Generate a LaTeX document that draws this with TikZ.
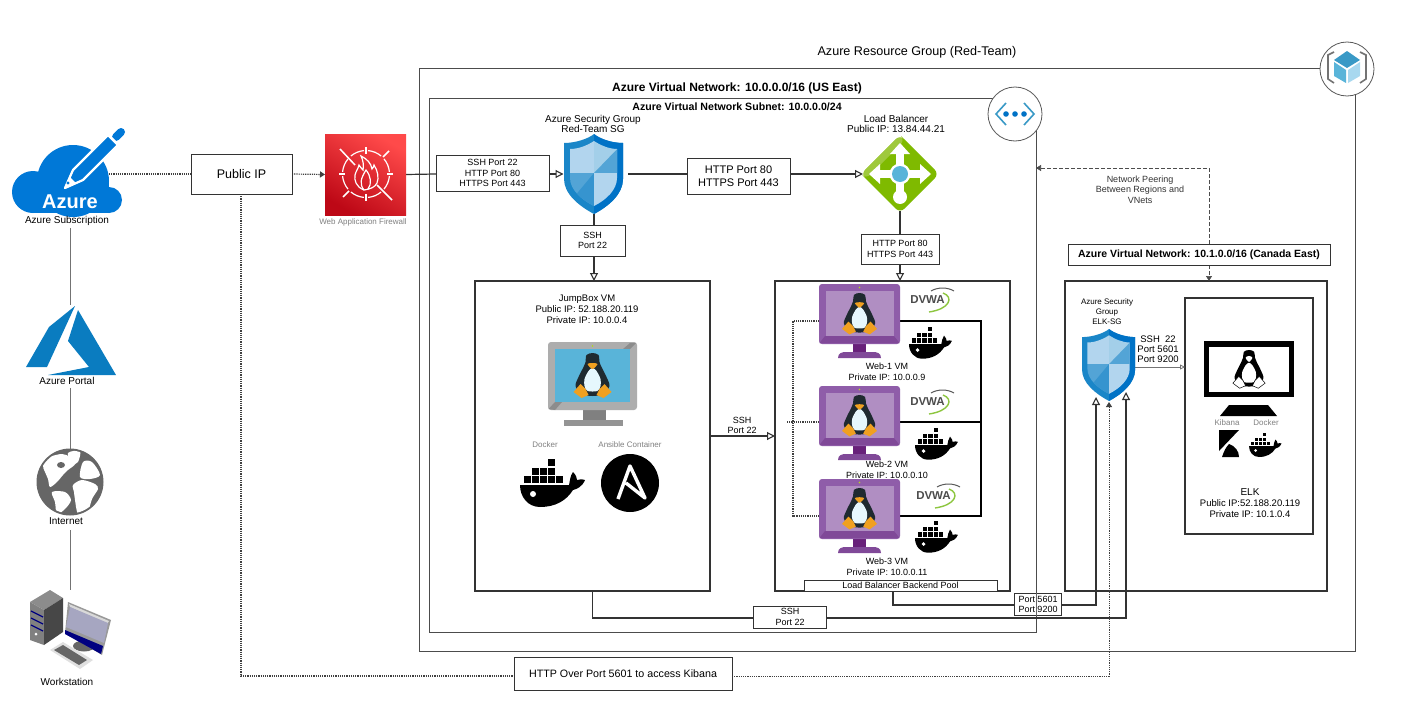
\documentclass[tikz,border=0pt]{standalone}
\usepackage{fontspec}
\setmainfont{Liberation Sans}
\usetikzlibrary{arrows.meta,shapes.geometric}
\definecolor{azblue}{HTML}{0078D7}
\definecolor{azport}{HTML}{0A7CC0}
\definecolor{shA}{HTML}{1A86C8}
\definecolor{shB}{HTML}{0072C6}
\definecolor{lnk}{HTML}{333333}
\definecolor{glab}{HTML}{808080}
\definecolor{vmA}{HTML}{8F5DA9}
\definecolor{vmB}{HTML}{B08EC2}
\definecolor{vmC}{HTML}{68217A}
\definecolor{vmD}{HTML}{804998}
\definecolor{tuxo}{HTML}{F0A020}
\definecolor{tuxd}{HTML}{1F2A30}
\definecolor{cubeA}{HTML}{3999C6}
\definecolor{cubeB}{HTML}{59B4D9}
\definecolor{cubeC}{HTML}{A8D8EF}
\definecolor{lbA}{HTML}{7FBA00}
\definecolor{lbB}{HTML}{9FC93C}
\definecolor{gearth}{HTML}{666666}
\definecolor{wafA}{HTML}{BD0816}
\definecolor{wafB}{HTML}{FF5252}
\definecolor{dvg}{HTML}{8DC63F}
\tikzset{
  x=1pt,y=-1pt,
  box/.style={draw=lnk,line width=1pt,fill=white,inner sep=0pt,outer sep=0pt,align=center,text=black},
  frame/.style={draw=black!80,line width=1.2pt,fill=white,inner sep=0pt,outer sep=0pt},
  area/.style={draw=black!70,line width=.9pt,inner sep=0pt,outer sep=0pt},
  hit/.style={inner sep=0pt,outer sep=0pt},
  lbl/.style={inner sep=0pt,outer sep=0pt,align=center,text=black},
  glbl/.style={lbl,text=glab},
  f8/.style={font=\fontsize{8}{10}\selectfont},
  f9/.style={font=\fontsize{9}{10.6}\selectfont},
  f95/.style={font=\fontsize{9.5}{10.8}\selectfont},
  f10/.style={font=\fontsize{10}{10.5}\selectfont},
  f11/.style={font=\fontsize{11}{12.6}\selectfont},
  f12/.style={font=\fontsize{12.5}{14}\selectfont},
  link/.style={draw=lnk,line width=1.2pt},
  thinlink/.style={draw=black!55,line width=.8pt},
  dotlink/.style={draw=black!75,line width=1.2pt,dash pattern=on 1.2pt off 1pt},
  peer/.style={draw=black!70,line width=.7pt,dash pattern=on 4pt off 2pt},
  opena/.style={-{Triangle[open,length=8pt,width=8pt,line width=1.1pt]}},
  fulla/.style={-{Triangle[length=5pt,width=6pt]}},
}
\newcommand\TuxAt[3]{\begin{scope}[shift={(#1,#2)},scale=#3]
 \fill[tuxd] plot[smooth cycle] coordinates {(0,0)(6,2)(7,9)(9,14)(14,24)(17,33)(11,41)(0,43)(-11,41)(-17,33)(-14,24)(-9,14)(-7,9)(-6,2)};
 \fill[white!90!cyan] plot[smooth cycle] coordinates {(0,15)(4,18)(8,26)(8,33)(5,38)(-5,38)(-8,33)(-8,26)(-4,18)};
 \fill[tuxo] plot[smooth cycle] coordinates {(-5,11)(0,10)(5,11)(0,16)};
 \fill[tuxo] (-19,39)--(-12,31)--(-7,36)--(-4,42)--(-11,45)--cycle;
 \fill[tuxo] (19,39)--(12,31)--(7,36)--(4,42)--(11,45)--cycle;
\end{scope}}
\newcommand\TuxOutlineAt[3]{\begin{scope}[shift={(#1,#2)},scale=#3]
 \fill[black] plot[smooth cycle] coordinates {(0,0)(6,2)(7,9)(9,14)(14,24)(17,33)(11,41)(0,43)(-11,41)(-17,33)(-14,24)(-9,14)(-7,9)(-6,2)};
 \fill[white] plot[smooth cycle] coordinates {(0,15)(4,18)(8,26)(8,33)(5,38)(-5,38)(-8,33)(-8,26)(-4,18)};
 \fill[white] plot[smooth cycle] coordinates {(-4,9)(0,7)(4,9)(0,14)};
 \draw[black,fill=white,line width=.5pt] (-19,39)--(-12,31)--(-7,36)--(-4,42)--(-11,45)--cycle;
 \draw[black,fill=white,line width=.5pt] (19,39)--(12,31)--(7,36)--(4,42)--(11,45)--cycle;
\end{scope}}
\newcommand\WhaleAt[3]{\begin{scope}[shift={(#1,#2)},scale=#3]
 \fill[black] (0,26)--(49,26) .. controls (50,22) and (50,17) .. (53,13) .. controls (56,16) and (57,19) .. (57,21) .. controls (60,20) and (63,20) .. (65,21) .. controls (62,28) and (57,30) .. (53,31) .. controls (46,42) and (35,48) .. (20,48) .. controls (8,48) and (0,38) .. (0,26) -- cycle;
 \fill[white] (13,35) circle (3);
 \foreach \xx in {4.3,12.3,20.3,28.3,36.3} {\fill[black] (\xx,17.3) rectangle +(6.6,6.6);}
 \foreach \xx in {12.3,20.3,28.3} {\fill[black] (\xx,9) rectangle +(6.6,6.6);}
 \fill[black] (28.3,0) rectangle +(6.6,6.6);
\end{scope}}
\newcommand\ShieldAt[3]{\begin{scope}[shift={(#1,#2)},scale=#3]
 \fill[shA] (30,0) .. controls (36,5) and (48,9) .. (59,9) -- (59,45) .. controls (59,60) and (45,72) .. (30,80) .. controls (15,72) and (0,60) .. (0,45) -- (0,9) .. controls (11,9) and (24,5) .. (30,0) -- cycle;
 \fill[shB] (30,0) .. controls (36,5) and (48,9) .. (59,9) -- (59,45) .. controls (59,60) and (45,72) .. (30,80) -- cycle;
 \begin{scope}
  \clip (30,7) .. controls (36,11) and (45,15) .. (53,15) -- (53,44) .. controls (53,56) and (42,66) .. (30,72) .. controls (18,66) and (6,56) .. (6,44) -- (6,15) .. controls (15,15) and (24,11) .. (30,7) -- cycle;
  \fill[white!70!shB] (0,0) rectangle (30,39);
  \fill[white!60!shA] (30,0) rectangle (60,39);
  \fill[white!25!shA] (30,39) -- (60,39) -- (60,8) -- cycle;
  \fill[white!25!shA] (0,39) rectangle (30,80);
  \fill[white!12!shA] (30,39) -- (0,75) -- (30,75) -- cycle;
  \fill[white!70!shB] (30,39) rectangle (60,80);
 \end{scope}
\end{scope}}
\newcommand\VmAt[2]{\begin{scope}[shift={(#1,#2)}]
 \fill[vmC] (34,58) rectangle (47,68);
 \fill[vmD] (19,74) .. controls (19,69) and (23,68) .. (27,68) -- (54,68) .. controls (58,68) and (62,69) .. (62,74) -- cycle;
 \fill[vmA,rounded corners=3pt] (0,0) rectangle (81,60);
 \fill[vmD] (0.5,59) -- (6,52) -- (75,52) -- (80.5,59) -- cycle;
 \fill[vmB] (6.5,7) rectangle (74.5,52);
 \fill[yellow!70!green] (40.5,3.5) circle (.9);
 \TuxAt{40.5}{9}{.92}
\end{scope}}
\newcommand\DvwaAt[2]{\begin{scope}[shift={(#1,#2)}]
 \draw[dvg,line width=1.4pt] (33,5) .. controls (44,9) and (40,21) .. (19,24);
 \draw[black!65,line width=1pt] (21,3) .. controls (28,-1) and (37,-1) .. (44,3);
 \node[lbl,text=black!70,font=\fontsize{11.5}{12}\selectfont\bfseries] at (17.5,12) {DVWA};
\end{scope}}
\begin{document}
\begin{tikzpicture}
\useasboundingbox (0,0) rectangle (1410,709);
\fill[white] (0,0) rectangle (1410,709);

% containers
\node[area,minimum width=936pt,minimum height=583pt] (rg) at (887,359.5) {};
\node[area,minimum width=607pt,minimum height=534pt] (subnet) at (732.5,365) {};
\node[lbl,font=\fontsize{12.6}{14}\selectfont] (rgt) at (917,52) {Azure Resource Group (Red-Team)};
\node[lbl,font=\fontsize{12}{14}\selectfont\bfseries] (vnt) at (737,88) {Azure Virtual Network: 10.0.0.0/16 (US East)};
\node[lbl,font=\fontsize{10.6}{12}\selectfont\bfseries] (snt) at (737,107) {Azure Virtual Network Subnet: 10.0.0.0/24};

% named anchors for the icons
\node[hit,minimum width=109pt,minimum height=82pt] (azure) at (67,172) {};
\coordinate (azureout) at (109,174);
\coordinate (azlow) at (70,228);
\coordinate (portlow) at (70,388);
\coordinate (globelow) at (70,530);
\node[hit,minimum width=90pt,minimum height=5pt] (portal) at (70,302) {};
\node[hit,minimum width=67pt,minimum height=67pt] (globe) at (70,482) {};
\node[hit,minimum width=81pt,minimum height=80pt] (station) at (70,630) {};
\node[hit,minimum width=81pt,minimum height=81pt] (waf) at (365.5,174.5) {};
\node[hit,minimum width=60pt,minimum height=80pt] (sg) at (593.5,174) {};
\node[hit,minimum width=74pt,minimum height=74pt] (lb) at (900,174) {};
\coordinate (sgout) at (628,174);
\coordinate (sglow) at (594,214);
\coordinate (lblow) at (900,211);
\node[frame,minimum width=235pt,minimum height=310pt] (jump) at (592.5,436) {};
\node[frame,minimum width=235pt,minimum height=310pt] (web) at (892.5,436) {};
\node[frame,minimum width=262pt,minimum height=310pt] (elkvnet) at (1196,436) {};
\node[frame,minimum width=128pt,minimum height=236pt] (elk) at (1249,416) {};
\coordinate (elkout) at (1135,367);
\coordinate (in1) at (1096,397);
\coordinate (in2) at (1109,402);
\coordinate (in3) at (1126,392);
\coordinate (webout) at (893,591);
\coordinate (k1) at (514,676);
\coordinate (k2) at (732,676);
\coordinate (peerA) at (1209,244);
\coordinate (peerB) at (1036,168);
\coordinate (peerC) at (1209,265);
\coordinate (peerD) at (1209,281);

% connectors
\draw[thinlink] (azlow) -- (portal.south);
\draw[thinlink] (portlow) -- (globe.north);
\draw[thinlink] (globelow) -- (station.north);
\draw[dotlink] (azureout) -- (191,174) coordinate (pipw);
\draw[dotlink,fulla] (292,174) coordinate (pipe) -- (waf.west);
\draw[link] (waf.east) -- (436,174) coordinate (fww);
\draw[link,opena] (549,174) coordinate (fwe) -- (sg.west);
\draw[link] (sgout) -- (687,174) coordinate (lbinw);
\draw[link,opena] (790,174) coordinate (lbine) -- (lb.west);
\draw[link] (sglow) -- (594,225);
\draw[link,opena] (594,256) -- (jump.north -| 594,256);
\draw[link] (lblow) -- (900,234);
\draw[link,opena] (900,264) -- (web.north -| 900,264);
\draw[link,opena] (jump.east) -- (web.west);
\draw[link] (jump.south) |- (754,618) coordinate (sshw);
\draw[link,opena] (827,618) coordinate (sshe) -| (in3);
\draw[link,line width=1.3pt] (webout) |- (1014,605) coordinate (portw);
\draw[link,line width=1.3pt,opena] (1062,605) coordinate (porte) -| (in1);
\draw[dotlink] (241,194) coordinate (pips) |- (k1);
\draw[dotlink,line width=.8pt,fulla] (k2) -| (in2);
\draw[peer,fulla] (peerA) |- (peerB);
\draw[peer,fulla] (peerC) -- (peerD);
\draw[thinlink,-{Triangle[open,length=5pt,width=5pt]}] (elkout) -- (elk.west |- elkout);

% boxes with text
\node[box,f12,minimum width=101pt,minimum height=40pt] (pip) at (241.5,174) {Public IP};
\node[box,f9,minimum width=113pt,minimum height=36pt] (fw) at (492.5,173) {SSH Port 22\\HTTP Port 80\\HTTPS Port 443};
\node[box,f11,minimum width=103pt,minimum height=36pt] (lbin) at (738.5,176) {HTTP Port 80\\HTTPS Port 443};
\node[box,f9,minimum width=65pt,minimum height=31pt] (jumpin) at (592.5,240.5) {SSH\\Port 22};
\node[box,f9,minimum width=78pt,minimum height=30pt] (webin) at (900,249) {HTTP Port 80\\HTTPS Port 443};
\node[box,f9,minimum width=73pt,minimum height=22pt] (sshb) at (790,617) {SSH\\Port 22};
\node[box,f9,minimum width=47pt,minimum height=22pt] (portb) at (1038,604.5) {Port 5601\\Port 9200};
\node[box,font=\fontsize{10.7}{12}\selectfont,minimum width=218pt,minimum height=33pt] (kib) at (623,674) {HTTP Over Port 5601 to access Kibana};
\node[box,font=\fontsize{10.5}{12}\selectfont\bfseries,minimum width=262pt,minimum height=21pt] (canada) at (1199,254.5) {Azure Virtual Network: 10.1.0.0/16 (Canada East)};
\node[box,f9,minimum width=193pt,minimum height=11pt] (pool) at (900.5,585.5) {Load Balancer Backend Pool};
\draw[black!60,line width=.8pt] (1036,593) -- (1036,616);

% circle icons
\node[circle,draw=black!65,fill=white,line width=.8pt,minimum size=54pt,inner sep=0pt] (rgicon) at (1347,69) {};
\node[circle,draw=black!65,fill=white,line width=.8pt,minimum size=54pt,inner sep=0pt] (vnicon) at (1015,114) {};
\begin{scope}[shift={(1347,69)}]
 \fill[cubeA] (0,-18)--(13,-9)--(0,-1)--(-13,-9)--cycle;
 \fill[cubeB] (-13,-7)--(-1,1)--(-1,14)--(-13,7)--cycle;
 \fill[cubeC] (1,1)--(13,-7)--(13,7)--(1,14)--cycle;
 \draw[black!55,line width=1.6pt] (-13,-17)--(-19,-14)--(-19,10)--(-13,14);
 \draw[black!55,line width=1.6pt] (13,-17)--(19,-14)--(19,10)--(13,14);
\end{scope}
\begin{scope}[shift={(1015,114)}]
 \draw[cubeA,line width=1.6pt] (-9,-11)--(-19,0)--(-9,11);
 \draw[cubeA,line width=1.6pt] (9,-11)--(19,0)--(9,11);
 \foreach \xx in {-9,0,9} {\fill[shB] (\xx,0) circle (2.8);}
\end{scope}

% Azure cloud
\fill[azblue] (33,192) circle (21);
\fill[azblue] (73,181) circle (36);
\fill[azblue] (109,200) circle (13);
\fill[azblue] (33,185) rectangle (109,213);
\draw[white,line width=2.2pt,fill=azblue,line join=round] (65,188)--(73,170)--(108,135)--(118,145)--(83,180)--cycle;
\draw[azblue,line width=8pt,line cap=round] (116,137)--(121,132);
\draw[white,line width=1.5pt] (107,133)--(119,145);
\fill[white] (65,188)--(70,177)--(76,183)--cycle;
\fill[azblue] (68,183) circle (1.6);
\node[lbl,text=white,font=\fontsize{20}{20}\selectfont\bfseries] (aztxt) at (70,202) {Azure};
\node[lbl,f10] (azl) at (67,220.5) {Azure Subscription};

% Azure portal
\fill[azport] (75,306)--(49,327)--(26,367)--(47,367)--cycle;
\fill[azport] (78,310)--(68,341)--(89,367)--(48,375)--(116,375)--cycle;
\node[lbl,f10] (portl) at (67,380.5) {Azure Portal};

% globe
\begin{scope}[shift={(globe.center)}]
 \fill[gearth] (0,0) circle (33.5);
 \clip (0,0) circle (31.5);
 \fill[white] plot[smooth cycle,tension=.5] coordinates {(-27,-17)(-20,-25)(-8,-28)(0,-25)(5,-18)(-2,-12)(-7,-7)(-13,0)(-20,5)(-22,-3)(-25,-10)};
 \fill[gearth] (-9,-17) ellipse (4 and 3);
 \fill[white] plot[smooth cycle,tension=.5] coordinates {(-18,10)(-5,10)(1,18)(-5,27)(-13,32)(-15,20)};
 \fill[white] plot[smooth cycle,tension=.5] coordinates {(3,3)(12,-2)(25,2)(28,7)(22,17)(17,32)(8,32)(5,18)(4,10)};
 \fill[white] plot[smooth cycle,tension=.5] coordinates {(10,-5)(13,-20)(22,-20)(30,-7)(20,-3)};
 \fill[white] plot[smooth cycle,tension=.5] coordinates {(-2,-29)(10,-31)(8,-20)(2,-18)};
\end{scope}
\node[lbl,f10] (gl) at (66,521.5) {Internet};

% workstation
\fill[black!45] (30,602)--(50,590)--(63,598)--(44,610)--cycle;
\fill[black!50] (30,602)--(44,610)--(44,645)--(30,640)--cycle;
\fill[black!72] (44,610)--(63,598)--(63,632)--(44,645)--cycle;
\foreach \dy in {0,7,14} {\draw[blue!50!black,line width=1.3pt] (31,611+\dy)--(43,617+\dy);}
\fill[white] (36,634) circle (1.5);
\fill[black!60] (84,646) ellipse (11 and 5.5);
\fill[black!40] (68,602)--(111,620)--(102,655)--(65,633)--cycle;
\fill[black!15] (69,604)--(109,621)--(107,624)--(70,607)--cycle;
\fill[blue!30!black!35!white] (70,607)--(108,623)--(104,643)--(66,627)--cycle;
\fill[blue!50!black] (65,630)--(103,646)--(101,654)--(65,634)--cycle;
\fill[black!12] (50,650)--(63,642)--(93,660)--(80,669)--cycle;
\fill[black!60] (54,650)--(63,645)--(87,660)--(79,665)--cycle;
\node[lbl,f10] (wl) at (67,681.5) {Workstation};

% WAF
\shade[bottom color=wafA,top color=wafB!90!red,shading angle=-30] (325,134) rectangle (406,215);
\begin{scope}[shift={(366,174)},white,line width=1.2pt]
 \foreach \aa in {0,45,90,135,180,225,270,315} {\draw (\aa+5:23.5) arc (\aa+5:\aa+40:23.5);}
 \draw (0,-27)--(0,-20);
 \draw (0,27)--(0,20);
 \draw (-27,0)--(-21,0);
 \draw (27,0)--(21,0);
 \draw[line width=1.5pt] (-26,-25)--(-11,-9);
 \draw[line width=1.5pt] (11,11)--(26,26);
 \draw[line width=1.5pt] (17,-17)--(23,-23);
 \draw[line width=1.5pt] (-17,17)--(-23,23);
 \draw (-2,16) .. controls (-10,13) and (-12,6) .. (-11,1) .. controls (-10,-3) and (-8,-5) .. (-7,-9) .. controls (-5,-6) and (-4,-5) .. (-3,-4) .. controls (-2,-9) and (-3,-14) .. (-5,-18) .. controls (1,-15) and (5,-11) .. (6,-5) .. controls (7,-6) and (8,-8) .. (8,-9) .. controls (12,-3) and (13,4) .. (11,9) .. controls (9,13) and (5,15) .. (-2,16);
 \draw (-2,16) .. controls (-7,10) and (-5,4) .. (0,-4) .. controls (5,2) and (6,10) .. (2,15);
\end{scope}
\node[glbl,font=\fontsize{8}{9}\selectfont] (wafl) at (363,222) {Web Application Firewall};

% security group and load balancer
\ShieldAt{564}{134}{1}
\node[lbl,f10] (sgl) at (593,124) {Azure Security Group\\Red-Team SG};
\begin{scope}[shift={(lb.center)}]
 \fill[lbA,rounded corners=6pt] (-39,0)--(0,-39)--(39,0)--(0,39)--cycle;
 \fill[lbB,rounded corners=6pt] (-39,0)--(0,-39)--(5,-34)--(-34,5)--cycle;
 \begin{scope}[white]
  \fill (-4,-24) rectangle (4,24);
  \fill (-24,-4) rectangle (24,4);
  \fill (0,-31)--(-10,-20)--(10,-20)--cycle;
  \fill (-31,0)--(-20,-10)--(-20,10)--cycle;
  \fill (31,0)--(20,-10)--(20,10)--cycle;
  \fill (0,0) circle (10.5);
  \fill (0,23) circle (7);
 \end{scope}
 \fill[cubeB] (0,0) circle (8);
\end{scope}
\node[lbl,f10] (lbl1) at (896,124) {Load Balancer\\Public IP: 13.84.44.21};

% JumpBox
\node[lbl,f95] (jl) at (587,309) {JumpBox VM\\Public IP: 52.188.20.119\\Private IP: 10.0.0.4};
\begin{scope}[shift={(548,342)}]
 \fill[black!50] (35,66) rectangle (58,78);
 \fill[black!42] (16,78) rectangle (75,84);
 \fill[black!32,rounded corners=3pt] (0,0) rectangle (89,68);
 \fill[black!45] (0.5,67) -- (7,60) -- (14,60) -- (7,68) -- cycle;
 \fill[black!45] (88,1) -- (82,7) -- (75,7) -- (82,1) -- cycle;
 \fill[cubeB] (7,7) rectangle (82,60);
 \fill[yellow!70!green] (44.5,4) circle (.9);
 \TuxAt{44.5}{11}{1}
\end{scope}
\node[glbl,f8] (dl) at (545,445) {Docker};
\node[glbl,f8] (al) at (630,445) {Ansible Container};
\WhaleAt{520}{459}{1}
\begin{scope}[shift={(630,483)}]
 \fill[black] (0,0) circle (29);
 \draw[white,line width=3.4pt,line join=round] (-12,16)--(0,-17)--(15,15)--(-4,0);
\end{scope}
\node[lbl,f9] (js) at (742,425.5) {SSH\\Port 22};

% Web servers
\draw[black,line width=1.2pt] (900,321)--(981,321)--(981,516)--(900,516);
\draw[black,line width=1.2pt] (900,422)--(981,422);
\draw[dotlink] (819,321)--(793,321)--(793,516)--(819,516);
\draw[dotlink] (787,422)--(819,422);
\VmAt{819}{284}
\VmAt{819}{386}
\VmAt{819}{479}
\DvwaAt{910}{288}
\DvwaAt{910}{390}
\DvwaAt{916}{484}
\WhaleAt{909}{327}{.66}
\WhaleAt{915}{428}{.66}
\WhaleAt{915}{521}{.66}
\node[lbl,f9] (w1) at (887,372) {Web-1 VM\\Private IP: 10.0.0.9};
\node[lbl,f9] (w2) at (887,469.5) {Web-2 VM\\Private IP: 10.0.0.10};
\node[lbl,f9] (w3) at (887,567) {Web-3 VM\\Private IP: 10.0.0.11};

% ELK side
\ShieldAt{1082}{329}{.9}
\node[lbl,f8,font=\fontsize{8}{10}\selectfont] (esl) at (1107,312) {Azure Security\\Group\\ELK-SG};
\node[lbl,f95,font=\fontsize{9.5}{10}\selectfont] (esp) at (1158,349) {SSH\ \ 22\\Port 5601\\Port 9200};
\fill[black] (1204,341) rectangle (1294,397);
\fill[white] (1209,347) rectangle (1289,392);
\TuxOutlineAt{1249}{350}{.85}
\fill[black] (1229,405)--(1268,405)--(1277,416)--(1220,416)--cycle;
\node[glbl,f8] (kl) at (1227,423) {Kibana};
\node[glbl,f8] (ddl) at (1266,423) {Docker};
\fill[black] (1219,430)--(1239,430)--(1219,451)--cycle;
\fill[black] (1222,457) .. controls (1224,451) and (1226,447) .. (1229,444) .. controls (1235,446) and (1239,451) .. (1239,457) -- cycle;
\WhaleAt{1249}{433}{.5}
\node[lbl,f95] (elkl) at (1250,503) {\fontsize{10}{11}\selectfont ELK\\Public IP:52.188.20.119\\Private IP: 10.1.0.4};

% peering
\node[lbl,f9,text=black!80] (pl) at (1140,189.5) {Network Peering\\Between Regions and\\VNets};
\end{tikzpicture}
\end{document}
